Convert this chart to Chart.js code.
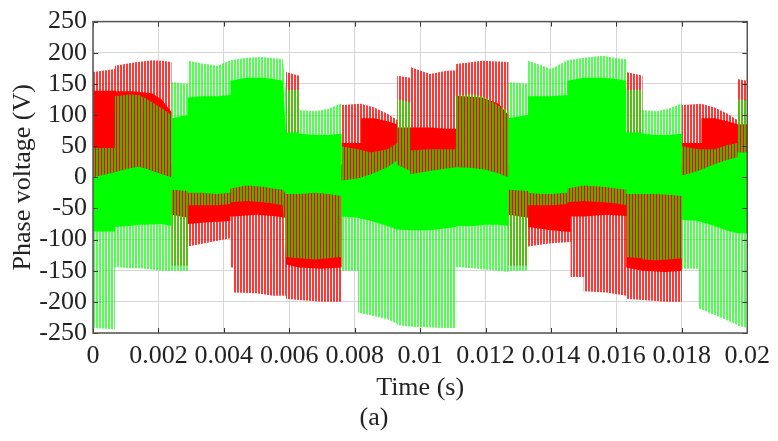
<!DOCTYPE html>
<html>
<head>
<meta charset="utf-8">
<script src="https://cdn.jsdelivr.net/npm/chart.js@4/dist/chart.umd.min.js"></script>
<style>
  html, body { margin: 0; padding: 0; background: #fff; }
</style>
</head>
<body>
<canvas id="phaseChart" width="778" height="441"></canvas>
<script>
// phase A (red) - envelope of the PWM pulses, and the dense (solid) part inside it
var redT = [
  0, 0.00067, 0.00067, 0.0012, 0.0018, 0.0021, 0.0024,
  0.0024, 0.0029, 0.0029, 0.0035, 0.0042, 0.0042, 0.0043, 0.0043, 0.0050, 0.0055, 0.0059,
  0.0059, 0.0063, 0.0063, 0.0070, 0.0076,
  0.0076, 0.0082, 0.0082, 0.0086, 0.0090, 0.0093,
  0.0093, 0.0097, 0.0097, 0.0103, 0.0108, 0.0111, 0.0111, 0.0119, 0.0124, 0.0127,
  0.0127, 0.0133, 0.0133, 0.0140, 0.0146, 0.0146, 0.0150, 0.0150, 0.0157, 0.0163,
  0.0163, 0.0168, 0.0168, 0.0175, 0.0180,
  0.0180, 0.0186, 0.0186, 0.0190, 0.0194, 0.0197, 0.0197, 0.0200
];
var redTop = [
  169, 174, 179, 184, 188, 187, 185,
  20, 20, 20, 20, 20, 20, 20, 20, 20, 20, 20,
  169, 163, 20, 20, 20,
  116, 118, 118, 112, 102, 92,
  163, 160, 177, 166, 171, 172, 182, 187, 186, 185,
  20, 20, 20, 20, 20, 20, 20, 20, 20, 20,
  169, 163, 20, 20, 20,
  116, 118, 118, 112, 102, 92, 158, 155
];
var redSolidTop = [
  139, 139, 138, 138, 135, 125, 105,
  20, 20, 20, 20, 20, 20, 20, 20, 20, 20, 20,
  20, 20, 20, 20, 20,
  55, 55, 95, 95, 90, 85,
  80, 80, 80, 80, 78, 78, 131, 128, 118, 100,
  20, 20, 20, 20, 20, 20, 20, 20, 20, 20,
  20, 20, 20, 20, 20,
  55, 55, 95, 95, 90, 85, 85, 85
];
var redSolidBottom = [
  -20, -20, -20, -20, -20, -20, -20,
  -60, -65, -75, -72, -70, -63, -63, -63, -60, -62, -65,
  -140, -145, -145, -147, -145,
  -20, -20, -20, -20, -20, -20,
  -20, -20, -20, -20, -20, -20, -20, -20, -20, -20,
  -60, -65, -80, -85, -88, -63, -63, -63, -60, -62,
  -145, -150, -150, -152, -150,
  -20, -20, -20, -20, -20, -20, -20, -20
];
var redBottom = [
  -20, -20, -20, -20, -20, -20, -20,
  -142, -142, -111, -105, -98, -145, -145, -185, -186, -190, -190,
  -195, -197, -197, -200, -200,
  -20, -20, -20, -20, -20, -20,
  -20, -20, -20, -20, -20, -20, -20, -20, -20, -20,
  -142, -142, -111, -106, -104, -160, -160, -183, -185, -190,
  -195, -197, -197, -200, -200,
  -20, -20, -20, -20, -20, -20, -20, -20
];

// phase B (green)
var greenT = [
  0, 0.00067, 0.00067, 0.0011, 0.0014, 0.0016, 0.0021, 0.0024,
  0.0024, 0.0029,
  0.0029, 0.0033, 0.0038, 0.0042, 0.0042, 0.0047, 0.0052, 0.0055, 0.0058,
  0.0059, 0.0063, 0.0063, 0.0068, 0.0072, 0.0076,
  0.0076, 0.0081, 0.0081, 0.0085, 0.0090, 0.0093,
  0.0093, 0.0097, 0.0097, 0.0103, 0.0108, 0.0111, 0.0111, 0.0116, 0.0120, 0.0124, 0.0127,
  0.0127, 0.0133,
  0.0133, 0.0137, 0.0140, 0.0145, 0.0145, 0.0150, 0.0156, 0.0160, 0.0163,
  0.0163, 0.0168, 0.0168, 0.0172, 0.0176, 0.0180,
  0.0180, 0.0185, 0.0185, 0.0190, 0.0194, 0.0197,
  0.0197, 0.0200
];
var greenTop = [
  47, 47, 130, 133, 132, 127, 111, 100,
  153, 150,
  187, 183, 179, 188, 188, 192, 193, 191, 190,
  140, 140, 108, 106, 110, 119,
  50, 45, 45, 40, 45, 55,
  125, 120, 43, 45, 45, 45, 131, 133, 128, 115, 106,
  153, 150,
  187, 180, 174, 188, 188, 192, 195, 191, 190,
  140, 140, 108, 106, 110, 119,
  50, 45, 45, 45, 52, 55,
  125, 123
];
var greenSolidTop = [
  0, 8, 8, 14, 17, 14, 5, 0,
  95, 100,
  128, 130, 130, 132, 155, 160, 160, 158, 155,
  72, 72, 70, 68, 68, 70,
  -5, -2, -2, 5, 16, 27,
  20, 10, 5, 10, 14, 16, 16, 15, 12, 6, 0,
  95, 100,
  130, 130, 130, 132, 155, 160, 160, 158, 155,
  72, 72, 70, 68, 68, 70,
  3, 10, 10, 21, 28, 32,
  40, 40
];
var greenSolidBottom = [
  -87, -87, -80, -78, -76, -76, -75, -78,
  -20, -22,
  -25, -25, -27, -25, -18, -13, -15, -18, -20,
  -27, -27, -27, -25, -27, -30,
  -63, -65, -65, -70, -78, -84,
  -84, -85, -85, -85, -82, -80, -78, -78, -76, -76, -78,
  -20, -22,
  -25, -27, -27, -25, -18, -13, -15, -18, -20,
  -27, -27, -27, -27, -28, -30,
  -68, -70, -70, -78, -86, -90,
  -90, -90
];
var greenBottom = [
  -242, -244, -144, -146, -146, -147, -150, -150,
  -150, -150,
  -45, -45, -45, -43, -40, -38, -40, -42, -45,
  -128, -130, -130, -132, -130, -128,
  -150, -150, -217, -222, -228, -235,
  -237, -240, -240, -241, -242, -242, -144, -146, -148, -150, -152,
  -150, -150,
  -45, -45, -45, -43, -40, -38, -40, -42, -45,
  -128, -130, -132, -133, -132, -130,
  -147, -147, -210, -221, -230, -237,
  -238, -242
];

var FONT = "'Liberation Serif', 'DejaVu Serif', serif";
var canvas = document.getElementById('phaseChart');
var ctx = canvas.getContext('2d');

// thin vertical stripes, like the individual switching pulses
function stripes(color) {
  var c = document.createElement('canvas');
  c.width = 3; c.height = 1;
  var g = c.getContext('2d');
  g.fillStyle = color;
  g.fillRect(0, 0, 2, 1);
  return ctx.createPattern(c, 'repeat');
}

function pts(t, v) {
  return t.map(function (x, i) { return { x: x, y: v[i] }; });
}

var datasets = [];
function band(name, t, lo, hi, color, order) {
  var base = { borderWidth: 0, borderColor: 'transparent', pointRadius: 0, pointHoverRadius: 0, tension: 0, order: order };
  datasets.push(Object.assign({ label: name + ' low', data: pts(t, lo), fill: false }, base));
  datasets.push(Object.assign({ label: name, data: pts(t, hi), fill: '-1', backgroundColor: color }, base));
}

band('Phase A pulses', redT, redBottom, redTop, stripes('rgba(255,0,0,0.78)'), 4);
band('Phase A', redT, redSolidBottom, redSolidTop, '#ff0000', 3);
band('Phase B pulses', greenT, greenBottom, greenTop, stripes('rgba(0,255,0,0.68)'), 2);
band('Phase B', greenT, greenSolidBottom, greenSolidTop, '#00ff00', 1);

// MATLAB-like inward ticks and box
var boxTicks = {
  id: 'boxTicks',
  afterDraw: function (chart) {
    var a = chart.chartArea, x = chart.scales.x, y = chart.scales.y, c = chart.ctx;
    c.save();
    c.strokeStyle = '#333';
    c.lineWidth = 1;
    c.beginPath();
    x.ticks.forEach(function (tk) {
      var px = Math.round(x.getPixelForValue(tk.value)) + 0.5;
      c.moveTo(px, a.bottom); c.lineTo(px, a.bottom - 5);
      c.moveTo(px, a.top); c.lineTo(px, a.top + 5);
    });
    y.ticks.forEach(function (tk) {
      var py = Math.round(y.getPixelForValue(tk.value)) + 0.5;
      c.moveTo(a.left, py); c.lineTo(a.left + 5, py);
      c.moveTo(a.right, py); c.lineTo(a.right - 5, py);
    });
    c.stroke();
    c.strokeStyle = '#555';
    c.lineWidth = 1.5;
    c.strokeRect(a.left, a.top, a.right - a.left, a.bottom - a.top);
    c.restore();
  }
};

new Chart(ctx, {
  type: 'line',
  data: { datasets: datasets },
  options: {
    responsive: false,
    animation: false,
    events: [],
    layout: { padding: { left: 0, right: 30, top: 17, bottom: 0 } },
    plugins: {
      legend: { display: false },
      tooltip: { enabled: false },
      title: {
        display: true,
        position: 'bottom',
        text: '(a)',
        color: '#222',
        font: { family: FONT, size: 26, weight: 'normal' },
        padding: { top: 2, bottom: 7 }
      }
    },
    scales: {
      x: {
        type: 'linear',
        min: 0,
        max: 0.02,
        afterFit: function (s) { s.height = 67.8; },
        ticks: {
          stepSize: 0.002,
          padding: 8,
          maxRotation: 0,
          autoSkip: false,
          color: '#222',
          font: { family: FONT, size: 26 },
          callback: function (v) { return String(+v.toFixed(3)); }
        },
        grid: { color: '#d6d6d6', drawTicks: false },
        border: { display: false },
        title: {
          display: true,
          text: 'Time (s)',
          color: '#222',
          font: { family: FONT, size: 26, lineHeight: 1 },
          padding: { top: 0, bottom: 0 }
        }
      },
      y: {
        min: -250,
        max: 250,
        afterFit: function (s) { s.width = 93; },
        ticks: {
          stepSize: 50,
          padding: 6,
          autoSkip: false,
          color: '#222',
          font: { family: FONT, size: 26 },
          callback: function (v) { return String(v); }
        },
        grid: { color: '#d6d6d6', drawTicks: false },
        border: { display: false },
        title: {
          display: true,
          text: 'Phase voltage (V)',
          color: '#222',
          font: { family: FONT, size: 26, lineHeight: 1 },
          padding: { top: 10, bottom: 0 }
        }
      }
    }
  },
  plugins: [boxTicks]
});
</script>
</body>
</html>
